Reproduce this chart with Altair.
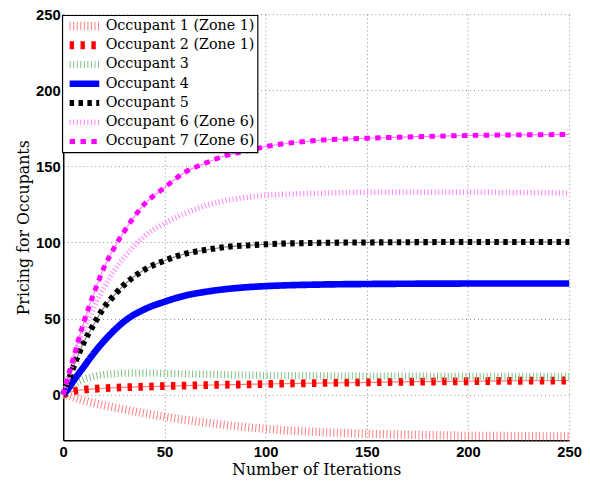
import altair as alt
import pandas as pd

iterations = [0, 2, 5, 10, 15, 20, 25, 30, 40, 50, 60, 70, 80, 90, 100, 125, 150, 175, 200, 225, 250]

occ1 = [0, -0.5, -1.8, -3.8, -5.5, -7.0, -8.4, -9.7, -12.2, -14.5, -16.5, -18.3, -20.0, -21.3, -22.5, -24.5, -25.7, -26.5, -27.0, -27.3, -27.5]
occ2 = [0, 1.0, 2.2, 3.2, 3.8, 4.2, 4.5, 4.8, 5.2, 5.6, 5.9, 6.2, 6.5, 6.7, 7.0, 7.6, 8.1, 8.5, 8.8, 9.1, 9.3]
occ3 = [0, 3.0, 6.5, 10.0, 12.0, 13.2, 13.8, 14.1, 14.2, 14.0, 13.7, 13.4, 13.1, 12.9, 12.7, 12.4, 12.2, 12.1, 12.0, 12.0, 12.0]
occ4 = [0, 3.0, 9.0, 18.0, 27.0, 35.0, 42.0, 48.0, 56.0, 61.0, 65.0, 67.5, 69.3, 70.5, 71.3, 72.3, 72.7, 72.9, 73.0, 73.0, 73.0]
occ5 = [0, 7.0, 18.0, 34.0, 46.0, 57.0, 65.0, 72.0, 82.0, 88.0, 92.5, 95.0, 97.0, 98.0, 98.8, 99.7, 100.0, 100.2, 100.3, 100.3, 100.3]
occ6 = [0, 9.0, 23.0, 42.0, 57.0, 70.0, 81.0, 90.0, 104.0, 112.5, 119.0, 124.0, 127.5, 129.5, 131.0, 132.3, 133.0, 133.0, 133.0, 132.8, 132.5]
occ7 = [0, 10.0, 24.0, 47.0, 66.0, 83.0, 96.0, 107.0, 125.0, 136.0, 146.0, 152.0, 157.0, 160.0, 163.0, 167.0, 168.5, 169.5, 170.3, 170.7, 171.0]

names = ["Occupant 1 (Zone 1)", "Occupant 2 (Zone 1)", "Occupant 3", "Occupant 4",
         "Occupant 5", "Occupant 6 (Zone 6)", "Occupant 7 (Zone 6)"]
series = [occ1, occ2, occ3, occ4, occ5, occ6, occ7]

colors = ["#ff8080", "#ff0000", "#80c080", "#0000ff", "#000000", "#ff80ff", "#ff00ff"]
dashes = [[1, 2.6], [4.5, 6.5], [1, 2.6], [1, 0], [4.5, 4.5], [1, 2.6], [5.5, 5.5]]
widths = [8.5, 5, 8.5, 4.7, 5, 8.5, 6]

x_ticks = [0, 50, 100, 150, 200, 250]
y_ticks = [0, 50, 100, 150, 200, 250]

rows = []
for name, vals in zip(names, series):
    for t, v in zip(iterations, vals):
        rows.append({"t": t, "v": v, "series": name})
df = pd.DataFrame(rows)

axis_style = dict(
    labelFont="Liberation Sans", labelFontWeight="bold", labelFontSize=15, labelColor="black",
    titleFont="DejaVu Serif", titleFontWeight="normal", titleFontSize=16, titleColor="black",
)

x_enc = alt.X("t:Q", scale=alt.Scale(domain=[0, 250], nice=False),
              axis=alt.Axis(values=x_ticks, title="Number of Iterations", labelPadding=4,
                            titlePadding=3, **axis_style))
y_enc = alt.Y("v:Q", scale=alt.Scale(domain=[-30, 250], nice=False),
              axis=alt.Axis(values=y_ticks, title="Pricing for Occupants", labelPadding=3,
                            titlePadding=4, **axis_style))


def leg():
    return alt.Legend(title=None, orient="none", legendX=-1, legendY=1)


main = alt.Chart(df).mark_line(interpolate="monotone", strokeCap="butt").encode(
    x=x_enc,
    y=y_enc,
    color=alt.Color("series:N", scale=alt.Scale(domain=names, range=colors), legend=leg()),
    strokeDash=alt.StrokeDash("series:N", scale=alt.Scale(domain=names, range=dashes), legend=leg()),
    strokeWidth=alt.StrokeWidth("series:N", scale=alt.Scale(domain=names, range=widths), legend=leg()),
    order="t:Q",
)

thin_layers = []
for i in [1, 4, 6]:
    thin_layers.append(
        alt.Chart(df).transform_filter(alt.datum.series == names[i])
        .mark_line(interpolate="monotone", strokeWidth=1.2, opacity=0.5, color=colors[i])
        .encode(x=x_enc, y=y_enc, order="t:Q")
    )

chart = alt.layer(*thin_layers, main).properties(
    width=513, height=432,
    autosize=alt.AutoSizeParams(type="none"),
    padding={"left": 56, "top": 3, "right": 13, "bottom": 38},
).configure_view(strokeWidth=0).configure_axis(
    domainColor="black", domainWidth=1.5, ticks=False, grid=True, gridDash=[1, 3],
    gridColor="#8c8c8c", gridWidth=1, labelFlush=False,
).configure_legend(
    fillColor="white", strokeColor="black", strokeWidth=1.2,
    padding=3, labelFont="DejaVu Serif", labelFontSize=14.5, labelColor="black",
    symbolType="stroke", symbolSize=900, rowPadding=3.5, labelOffset=2, cornerRadius=0,
    clipHeight=16,
)

chart.save("out.html", embed_options={"renderer": "svg", "actions": False})
